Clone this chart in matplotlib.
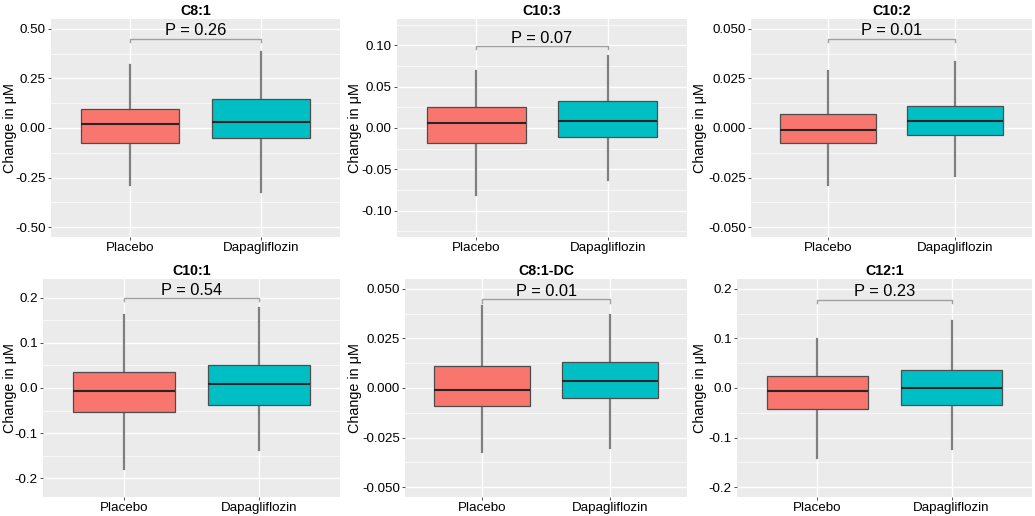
import matplotlib
matplotlib.use("Agg")
import matplotlib.pyplot as plt
from matplotlib.ticker import MultipleLocator, FormatStrFormatter

plt.rcParams['font.family'] = ['Liberation Sans', 'DejaVu Sans']

groups = ['Placebo', 'Dapagliflozin']
titles = ['C8:1', 'C10:3', 'C10:2', 'C10:1', 'C8:1-DC', 'C12:1']
p_labels = ['P = 0.26', 'P = 0.07', 'P = 0.01', 'P = 0.54', 'P = 0.01', 'P = 0.23']

# box stats per panel: [whislo, q1, median, q3, whishi] for placebo / dapagliflozin
placebo = [
    [-0.286, -0.074, 0.019, 0.094, 0.316],
    [-0.081, -0.018, 0.0065, 0.026, 0.069],
    [-0.029, -0.0076, -0.0008, 0.0071, 0.0286],
    [-0.179, -0.053, -0.006, 0.035, 0.161],
    [-0.0323, -0.0089, -0.0008, 0.0111, 0.0412],
    [-0.141, -0.042, -0.0067, 0.0235, 0.0993],
]
dapagliflozin = [
    [-0.325, -0.052, 0.029, 0.146, 0.384],
    [-0.0625, -0.0105, 0.008, 0.033, 0.087],
    [-0.0244, -0.0037, 0.0034, 0.0109, 0.0333],
    [-0.137, -0.038, 0.0096, 0.051, 0.178],
    [-0.0303, -0.005, 0.0037, 0.0133, 0.037],
    [-0.123, -0.0336, 0.0007, 0.0369, 0.1356],
]
bracket_y = [0.451, 0.0996, 0.0451, 0.200, 0.0447, 0.1785]
y_limit = [0.5, 0.12, 0.05, 0.22, 0.05, 0.2]
y_step = [0.25, 0.05, 0.025, 0.1, 0.025, 0.1]
y_fmt = ['%.2f', '%.2f', '%.3f', '%.1f', '%.3f', '%.1f']

colors = ['#F8766D', '#00BFC4']

W, H = 1035, 516
fig = plt.figure(figsize=(W / 100, H / 100), dpi=100)

# axes boxes in pixels: left, top, right, bottom
boxes = [
    (51, 19, 340, 237), (397, 19, 687, 237), (751, 19, 1032, 237),
    (43, 279, 340, 497), (405, 279, 687, 497), (737, 279, 1032, 497),
]
cell_left = [0, 345, 690, 0, 345, 690]

for i in range(6):
    l, t, r, b = boxes[i]
    ax = fig.add_axes([l / W, 1 - b / H, (r - l) / W, (b - t) / H])
    ax.set_facecolor('#EBEBEB')
    for s in ax.spines.values():
        s.set_visible(False)

    stats = []
    for g, vals in zip(groups, [placebo[i], dapagliflozin[i]]):
        stats.append(dict(label=g, whislo=vals[0], q1=vals[1], med=vals[2],
                          q3=vals[3], whishi=vals[4]))
    bp = ax.bxp(stats, positions=[1, 2], widths=0.75, patch_artist=True,
                showfliers=False, showcaps=False,
                boxprops=dict(edgecolor='#4D4D4D', linewidth=0.9),
                whiskerprops=dict(color='#7F7F7F', linewidth=1.6),
                medianprops=dict(color='#262626', linewidth=1.5))
    for patch, c in zip(bp['boxes'], colors):
        patch.set_facecolor(c)
        patch.set_zorder(3)
    for m in bp['medians']:
        m.set_zorder(4)

    L = y_limit[i]
    ax.set_ylim(-L * 1.1, L * 1.1)
    ax.set_xlim(0.4, 2.6)
    ax.yaxis.set_major_locator(MultipleLocator(y_step[i]))
    ax.yaxis.set_minor_locator(MultipleLocator(y_step[i] / 2))
    ax.yaxis.set_major_formatter(FormatStrFormatter(y_fmt[i]))
    ax.grid(which='major', color='white', linewidth=1.0)
    ax.grid(which='minor', axis='y', color='white', linewidth=0.5)
    ax.set_axisbelow(True)
    ax.tick_params(axis='both', which='major', length=2.2, width=0.6,
                   color='#333333', labelsize=9.6, labelcolor='black', pad=1.5)
    ax.tick_params(axis='y', which='minor', length=0)
    ax.set_xticks([1, 2])
    ax.set_xticklabels(groups)

    # significance bracket
    yb = bracket_y[i]
    drop = 0.016 * 2.2 * L
    ax.plot([1, 1, 2, 2], [yb - drop, yb, yb, yb - drop], color='#A0A0A0',
            linewidth=1.0, zorder=5)
    ax.text(1.5, yb + 0.002 * L, p_labels[i], ha='center', va='bottom',
            fontsize=11.8, color='black')

    ax.set_title(titles[i], fontsize=10.2, fontweight='bold', pad=3)
    ax.set_ylabel('Change in μM', fontsize=10.4)
    lx = (cell_left[i] + 17 - l) / (r - l)
    ax.yaxis.set_label_coords(lx, 0.5)

fig.savefig('out.png', dpi=100)
